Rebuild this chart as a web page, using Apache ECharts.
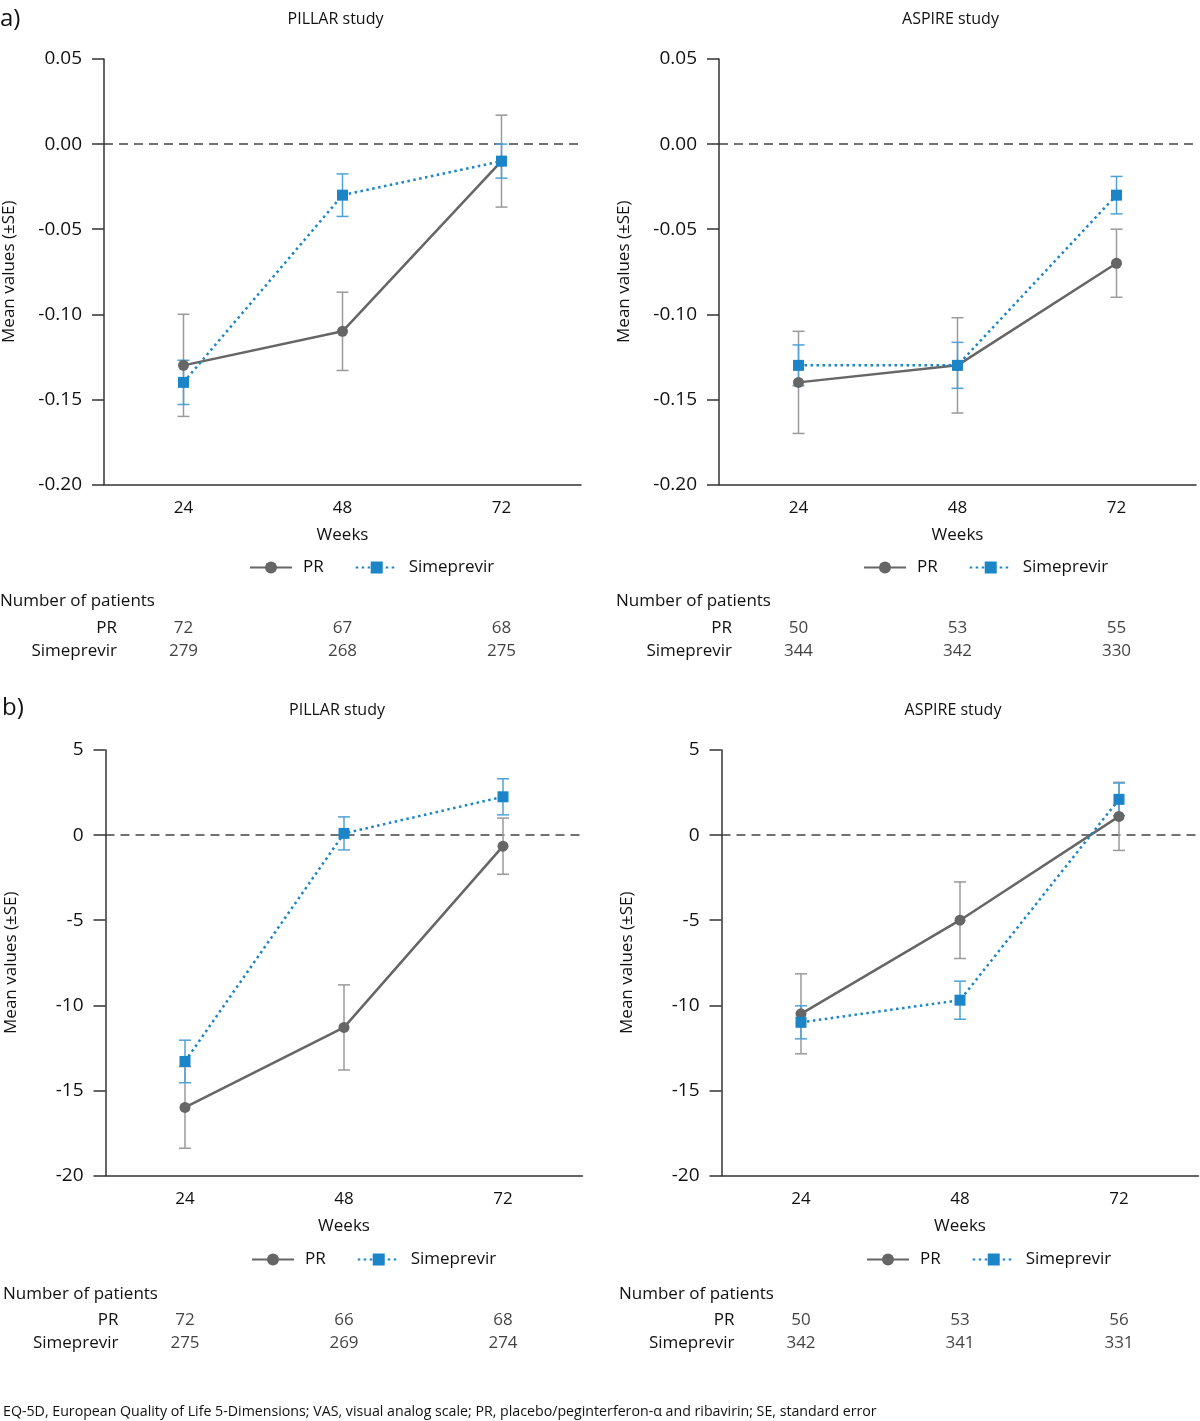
<!DOCTYPE html>
<html>
<head>
<meta charset="utf-8">
<script src="https://cdn.jsdelivr.net/npm/echarts@6/dist/echarts.min.js"></script>
<style>
  html, body { margin: 0; padding: 0; background: #fff; }
  #main { width: 1200px; height: 1421px; }
</style>
</head>
<body>
<div id="main"></div>
<script>
const weeks = ['24', '48', '72']
const rows = ['PR', 'Simeprevir']

// a) EQ-5D utility, mean change and SE
const pillarEqPR = [-0.13, -0.11, -0.01]
const pillarEqPRse = [0.03, 0.023, 0.027]
const pillarEqSim = [-0.14, -0.03, -0.01]
const pillarEqSimSe = [0.013, 0.0125, 0.01]
const aspireEqPR = [-0.14, -0.13, -0.07]
const aspireEqPRse = [0.03, 0.028, 0.02]
const aspireEqSim = [-0.13, -0.13, -0.03]
const aspireEqSimSe = [0.012, 0.0135, 0.011]

// b) VAS, mean change and SE
const pillarVasPR = [-16.0, -11.3, -0.65]
const pillarVasPRse = [2.4, 2.5, 1.65]
const pillarVasSim = [-13.3, 0.1, 2.25]
const pillarVasSimSe = [1.25, 0.97, 1.06]
const aspireVasPR = [-10.5, -5.0, 1.1]
const aspireVasPRse = [2.35, 2.25, 2.0]
const aspireVasSim = [-11.0, -9.7, 2.1]
const aspireVasSimSe = [0.97, 1.12, 0.96]

// number of patients
const pillarEqN_PR = [72, 67, 68]
const pillarEqN_Sim = [279, 268, 275]
const aspireEqN_PR = [50, 53, 55]
const aspireEqN_Sim = [344, 342, 330]
const pillarVasN_PR = [72, 66, 68]
const pillarVasN_Sim = [275, 269, 274]
const aspireVasN_PR = [50, 53, 56]
const aspireVasN_Sim = [342, 341, 331]

const FONT = '"Open Sans", "Noto Sans", sans-serif'
const TXT = '#111'
const AXIS = '#333'
const GREY = '#666666'
const GREY_ERR = '#9a9a9a'
const BLUE = '#1b85c7'
const BLUE_ERR = '#4ea2d6'

const panels = [
    { title: 'PILLAR study', left: 104, top: 59, min: -0.2, max: 0.05, step: 0.05, dec: 2,
      pr: pillarEqPR, prSe: pillarEqPRse, sim: pillarEqSim, simSe: pillarEqSimSe,
      nPR: pillarEqN_PR, nSim: pillarEqN_Sim, legendLeft: 244, legendTop: 554, tableTop: 617, numX: 0, numY: 601 },
    { title: 'ASPIRE study', left: 719, top: 59, min: -0.2, max: 0.05, step: 0.05, dec: 2,
      pr: aspireEqPR, prSe: aspireEqPRse, sim: aspireEqSim, simSe: aspireEqSimSe,
      nPR: aspireEqN_PR, nSim: aspireEqN_Sim, legendLeft: 858, legendTop: 554, tableTop: 617, numX: 616, numY: 601 },
    { title: 'PILLAR study', left: 105.5, top: 750, min: -20, max: 5, step: 5, dec: 0,
      pr: pillarVasPR, prSe: pillarVasPRse, sim: pillarVasSim, simSe: pillarVasSimSe,
      nPR: pillarVasN_PR, nSim: pillarVasN_Sim, legendLeft: 246, legendTop: 1246, tableTop: 1309, numX: 3, numY: 1294 },
    { title: 'ASPIRE study', left: 721.5, top: 750, min: -20, max: 5, step: 5, dec: 0,
      pr: aspireVasPR, prSe: aspireVasPRse, sim: aspireVasSim, simSe: aspireVasSimSe,
      nPR: aspireVasN_PR, nSim: aspireVasN_Sim, legendLeft: 861, legendTop: 1246, tableTop: 1309, numX: 619, numY: 1294 }
]
const PLOT_W = 477
const PLOT_H = 425.5

// error bar: vertical line with caps
function errBar(color) {
    return function (params, api) {
        const i = api.value(0)
        const lo = api.coord([i, api.value(1)])
        const hi = api.coord([i, api.value(2)])
        const w = 6
        const st = { stroke: color, lineWidth: 1.5 }
        return {
            type: 'group',
            children: [
                { type: 'line', shape: { x1: hi[0], y1: hi[1], x2: lo[0], y2: lo[1] }, style: st },
                { type: 'line', shape: { x1: hi[0] - w, y1: hi[1], x2: hi[0] + w, y2: hi[1] }, style: st },
                { type: 'line', shape: { x1: lo[0] - w, y1: lo[1], x2: lo[0] + w, y2: lo[1] }, style: st }
            ]
        }
    }
}

// dashed reference line at y = 0 across the whole plot
function zeroLine(params, api) {
    const cs = params.coordSys
    const y = api.coord([0, api.value(0)])[1]
    return {
        type: 'line',
        shape: { x1: cs.x, y1: y, x2: cs.x + cs.width, y2: y },
        style: { stroke: '#444', lineWidth: 1.5, lineDash: [9, 6] }
    }
}

const grid = [], xAxis = [], yAxis = [], series = [], legend = [], graphic = []

panels.forEach((p, k) => {
    const g = k * 2
    grid.push({ left: p.left, top: p.top, width: PLOT_W, height: PLOT_H, outerBoundsMode: 'none' })
    grid.push({ left: p.left, top: p.tableTop, width: PLOT_W, height: 46, outerBoundsMode: 'none' })

    xAxis.push({
        gridIndex: g, type: 'category', data: weeks, boundaryGap: true,
        axisLine: { onZero: false, lineStyle: { color: AXIS, width: 1.5 } },
        axisTick: { alignWithLabel: true, length: 9, lineStyle: { color: AXIS, width: 1.5 } },
        axisLabel: { color: TXT, fontSize: 17, fontFamily: FONT, margin: 15 },
        name: 'Weeks', nameLocation: 'middle', nameGap: 42,
        nameTextStyle: { color: TXT, fontSize: 17, fontFamily: FONT }
    })
    xAxis.push({ gridIndex: g + 1, type: 'category', data: weeks, boundaryGap: true, show: false })

    yAxis.push({
        gridIndex: g, type: 'value', min: p.min, max: p.max, interval: p.step,
        axisLine: { show: true, onZero: false, lineStyle: { color: AXIS, width: 1.5 } },
        axisTick: { show: true, length: 12, lineStyle: { color: AXIS, width: 1.5 } },
        axisLabel: { color: TXT, fontSize: 19, fontFamily: FONT, margin: 22,
            formatter: v => v.toFixed(p.dec) },
        splitLine: { show: false },
        name: 'Mean values (±SE)', nameLocation: 'middle', nameGap: 86, nameRotate: 90,
        nameTextStyle: { color: TXT, fontSize: 17, fontFamily: FONT }
    })
    yAxis.push({
        gridIndex: g + 1, type: 'category', data: rows, inverse: true,
        axisLine: { show: false }, axisTick: { show: false }, splitLine: { show: false },
        axisLabel: { color: TXT, fontSize: 17, fontFamily: FONT, margin: -13 }
    })

    series.push({
        name: 'zero', type: 'custom', xAxisIndex: g, yAxisIndex: g, z: 0, silent: true,
        renderItem: zeroLine, encode: { y: 0 }, data: [[0]]
    })
    // error bars first so the markers sit on top
    series.push({
        name: 'PR SE', type: 'custom', xAxisIndex: g, yAxisIndex: g, z: 1,
        renderItem: errBar(GREY_ERR), encode: { x: 0, y: [1, 2] },
        data: p.pr.map((v, i) => [i, v - p.prSe[i], v + p.prSe[i]])
    })
    series.push({
        name: 'Simeprevir SE', type: 'custom', xAxisIndex: g, yAxisIndex: g, z: 1,
        renderItem: errBar(BLUE_ERR), encode: { x: 0, y: [1, 2] },
        data: p.sim.map((v, i) => [i, v - p.simSe[i], v + p.simSe[i]])
    })
    series.push({
        name: 'PR', type: 'line', xAxisIndex: g, yAxisIndex: g, z: 2,
        data: p.pr, symbol: 'circle', symbolSize: 11,
        lineStyle: { color: GREY, width: 2.5 }, itemStyle: { color: GREY }
    })
    series.push({
        name: 'Simeprevir', type: 'line', xAxisIndex: g, yAxisIndex: g, z: 3,
        data: p.sim, symbol: 'rect', symbolSize: 11,
        lineStyle: { color: BLUE, width: 2.5, type: [2.5, 3.5] }, itemStyle: { color: BLUE }
    })
    // patient numbers table
    series.push({
        name: 'n', type: 'scatter', xAxisIndex: g + 1, yAxisIndex: g + 1,
        symbolSize: 1, itemStyle: { color: 'rgba(0,0,0,0)' }, silent: true,
        label: { show: true, position: 'inside', color: TXT, fontSize: 17, fontFamily: FONT,
            formatter: d => d.value[2] },
        data: p.nPR.map((n, i) => [i, 0, n]).concat(p.nSim.map((n, i) => [i, 1, n]))
    })

    legend.push({
        data: ['PR', 'Simeprevir'], left: p.legendLeft, top: p.legendTop,
        itemWidth: 42, itemHeight: 15, itemGap: 31, selectedMode: false,
        textStyle: { color: TXT, fontSize: 17, fontFamily: FONT, padding: [0, 0, 0, 6] }
    })

    graphic.push({ type: 'text', x: p.left + PLOT_W / 2 - 7, y: p.top - 40,
        style: { text: p.title, textAlign: 'center', textVerticalAlign: 'middle',
            font: '16px ' + FONT, fill: TXT } })
    graphic.push({ type: 'text', x: p.numX, y: p.numY,
        style: { text: 'Number of patients', textAlign: 'left', textVerticalAlign: 'middle',
            font: '17px ' + FONT, fill: TXT } })
})

graphic.push({ type: 'text', x: 0, y: 19,
    style: { text: 'a)', textVerticalAlign: 'middle', font: '24px ' + FONT, fill: TXT } })
graphic.push({ type: 'text', x: 2, y: 708,
    style: { text: 'b)', textVerticalAlign: 'middle', font: '24px ' + FONT, fill: TXT } })
graphic.push({ type: 'text', x: 3, y: 1412,
    style: { text: 'EQ-5D, European Quality of Life 5-Dimensions; VAS, visual analog scale; PR, placebo/peginterferon-α and ribavirin; SE, standard error',
        textVerticalAlign: 'middle', font: '14.2px ' + FONT, fill: TXT } })

const myChart = echarts.init(document.getElementById('main'), null, { renderer: 'canvas' })
myChart.setOption({
    animation: false,
    backgroundColor: '#fff',
    grid, xAxis, yAxis, series, legend, graphic
})
</script>
</body>
</html>
